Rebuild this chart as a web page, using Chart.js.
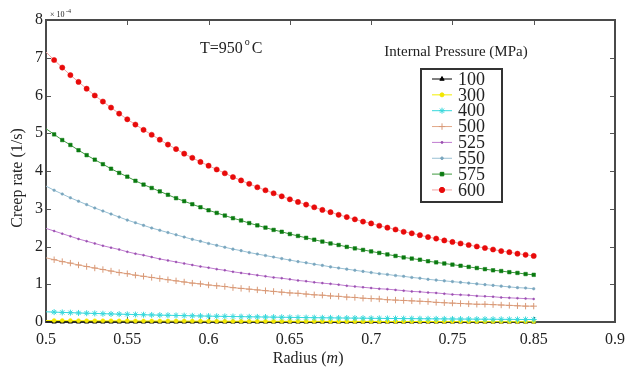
<!DOCTYPE html>
<html>
<head>
<meta charset="utf-8">
<script src="https://cdn.jsdelivr.net/npm/chart.js@4.4.0/dist/chart.umd.min.js"></script>
<style>
  html, body { margin: 0; padding: 0; background: #fff; }
  #wrap { width: 633px; height: 372px; }
</style>
</head>
<body>
<div id="wrap"><canvas id="chart" width="633" height="372"></canvas></div>
<script>
// radius (x axis units), one point every 0.005
var radius = [0.500, 0.505, 0.510, 0.515, 0.520, 0.525, 0.530, 0.535, 0.540, 0.545,
  0.550, 0.555, 0.560, 0.565, 0.570, 0.575, 0.580, 0.585, 0.590, 0.595,
  0.600, 0.605, 0.610, 0.615, 0.620, 0.625, 0.630, 0.635, 0.640, 0.645,
  0.650, 0.655, 0.660, 0.665, 0.670, 0.675, 0.680, 0.685, 0.690, 0.695,
  0.700, 0.705, 0.710, 0.715, 0.720, 0.725, 0.730, 0.735, 0.740, 0.745,
  0.750, 0.755, 0.760, 0.765, 0.770, 0.775, 0.780, 0.785, 0.790, 0.795, 0.800];

// tick labels as printed on the original x axis
var xTickLabels = ['0.5', '0.55', '0.6', '0.65', '0.7', '0.75', '0.85', '0.9'];
var yTickLabels = ['0', '1', '2', '3', '4', '5', '6', '7', '8'];

// creep rate, x 10^-4 1/s
var p100 = [0.002, 0.002, 0.002, 0.002, 0.002, 0.002, 0.002, 0.002, 0.002, 0.002,
  0.002, 0.002, 0.002, 0.002, 0.002, 0.002, 0.002, 0.002, 0.002, 0.002,
  0.001, 0.001, 0.001, 0.001, 0.001, 0.001, 0.001, 0.001, 0.001, 0.001,
  0.001, 0.001, 0.001, 0.001, 0.001, 0.001, 0.001, 0.001, 0.001, 0.001,
  0.001, 0.001, 0.001, 0.001, 0.001, 0.001, 0.001, 0.001, 0.001, 0.001,
  0.001, 0.001, 0.001, 0.001, 0.001, 0.001, 0.001, 0.001, 0.001, 0.001, 0.001];
var p300 = [0.040, 0.039, 0.038, 0.037, 0.036, 0.035, 0.034, 0.033, 0.032, 0.031,
  0.030, 0.029, 0.028, 0.028, 0.027, 0.026, 0.026, 0.025, 0.024, 0.024,
  0.023, 0.023, 0.022, 0.021, 0.021, 0.020, 0.020, 0.020, 0.019, 0.019,
  0.018, 0.018, 0.017, 0.017, 0.017, 0.016, 0.016, 0.016, 0.015, 0.015,
  0.015, 0.014, 0.014, 0.014, 0.013, 0.013, 0.013, 0.013, 0.012, 0.012,
  0.012, 0.012, 0.011, 0.011, 0.011, 0.011, 0.011, 0.010, 0.010, 0.010, 0.010];
var p400 = [0.270, 0.262, 0.254, 0.247, 0.240, 0.233, 0.227, 0.220, 0.214, 0.208,
  0.203, 0.197, 0.192, 0.187, 0.182, 0.178, 0.173, 0.169, 0.164, 0.160,
  0.156, 0.152, 0.149, 0.145, 0.142, 0.138, 0.135, 0.132, 0.129, 0.126,
  0.123, 0.120, 0.117, 0.115, 0.112, 0.110, 0.107, 0.105, 0.103, 0.101,
  0.098, 0.096, 0.094, 0.092, 0.090, 0.089, 0.087, 0.085, 0.083, 0.082,
  0.080, 0.078, 0.077, 0.075, 0.074, 0.073, 0.071, 0.070, 0.068, 0.067, 0.066];
var p500 = [1.70, 1.65, 1.60, 1.56, 1.51, 1.47, 1.43, 1.39, 1.35, 1.31,
  1.28, 1.24, 1.21, 1.18, 1.15, 1.12, 1.09, 1.06, 1.03, 1.01,
  0.98, 0.96, 0.94, 0.91, 0.89, 0.87, 0.85, 0.83, 0.81, 0.79,
  0.77, 0.76, 0.74, 0.72, 0.71, 0.69, 0.68, 0.66, 0.65, 0.63,
  0.62, 0.61, 0.59, 0.58, 0.57, 0.56, 0.55, 0.54, 0.52, 0.51,
  0.50, 0.49, 0.48, 0.47, 0.47, 0.46, 0.45, 0.44, 0.43, 0.42, 0.42];
var p525 = [2.48, 2.41, 2.34, 2.27, 2.20, 2.14, 2.08, 2.02, 1.97, 1.92,
  1.86, 1.81, 1.77, 1.72, 1.67, 1.63, 1.59, 1.55, 1.51, 1.47,
  1.44, 1.40, 1.37, 1.33, 1.30, 1.27, 1.24, 1.21, 1.18, 1.16,
  1.13, 1.10, 1.08, 1.05, 1.03, 1.01, 0.99, 0.96, 0.94, 0.92,
  0.90, 0.88, 0.87, 0.85, 0.83, 0.81, 0.80, 0.78, 0.77, 0.75,
  0.73, 0.72, 0.71, 0.69, 0.68, 0.67, 0.65, 0.64, 0.63, 0.62, 0.61];
var p550 = [3.60, 3.49, 3.39, 3.29, 3.20, 3.11, 3.02, 2.94, 2.86, 2.78,
  2.70, 2.63, 2.56, 2.49, 2.43, 2.37, 2.31, 2.25, 2.19, 2.14,
  2.08, 2.03, 1.98, 1.93, 1.89, 1.84, 1.80, 1.76, 1.72, 1.68,
  1.64, 1.60, 1.57, 1.53, 1.50, 1.46, 1.43, 1.40, 1.37, 1.34,
  1.31, 1.28, 1.26, 1.23, 1.21, 1.18, 1.16, 1.13, 1.11, 1.09,
  1.07, 1.05, 1.03, 1.01, 0.99, 0.97, 0.95, 0.93, 0.91, 0.90, 0.88];
var p575 = [5.12, 4.97, 4.82, 4.69, 4.55, 4.42, 4.30, 4.18, 4.06, 3.95,
  3.85, 3.74, 3.64, 3.55, 3.46, 3.37, 3.28, 3.20, 3.12, 3.04,
  2.96, 2.89, 2.82, 2.75, 2.69, 2.62, 2.56, 2.50, 2.44, 2.39,
  2.33, 2.28, 2.23, 2.18, 2.13, 2.08, 2.04, 1.99, 1.95, 1.91,
  1.87, 1.83, 1.79, 1.75, 1.71, 1.68, 1.65, 1.61, 1.58, 1.55,
  1.52, 1.49, 1.46, 1.43, 1.40, 1.37, 1.35, 1.32, 1.30, 1.27, 1.25];
var p600 = [7.15, 6.94, 6.74, 6.54, 6.36, 6.18, 6.00, 5.84, 5.68, 5.52,
  5.37, 5.23, 5.09, 4.96, 4.83, 4.70, 4.58, 4.46, 4.35, 4.24,
  4.14, 4.04, 3.94, 3.84, 3.75, 3.66, 3.57, 3.49, 3.41, 3.33,
  3.25, 3.18, 3.11, 3.04, 2.97, 2.91, 2.84, 2.78, 2.72, 2.66,
  2.61, 2.55, 2.50, 2.45, 2.39, 2.35, 2.30, 2.25, 2.21, 2.16,
  2.12, 2.08, 2.04, 2.00, 1.96, 1.92, 1.88, 1.85, 1.81, 1.78, 1.75];

var seriesNames = ['100', '300', '400', '500', '525', '550', '575', '600'];
var seriesData = [p100, p300, p400, p500, p525, p550, p575, p600];

var SERIF = '"Liberation Serif", "DejaVu Serif", serif';

// 선/마커 스타일
var styles = [
  {line: '#000000', fill: '#000000', point: 'triangle', r: 2.5},
  {line: '#f2ee00', fill: '#f2e600', point: 'circle', r: 2},
  {line: '#38d8dc', fill: '#38d8dc', point: 'star', r: 3},
  {line: '#e2a888', fill: '#d99a78', point: 'cross', r: 3.2},
  {line: '#c07cd0', fill: '#9a50b0', point: 'circle', r: 1},
  {line: '#98c0d4', fill: '#7aa6be', point: 'circle', r: 1.3},
  {line: '#3f9a3f', fill: '#0a7a10', point: 'rect', r: 2.5},
  {line: '#f2a2a2', fill: '#e80a0a', point: 'circle', r: 2.6}
];

function makeDataset(i) {
  var pts = [];
  for (var k = 0; k < radius.length; k++) {
    pts.push({x: radius[k], y: seriesData[i][k]});
  }
  var st = styles[i];
  return {
    label: seriesNames[i],
    data: pts,
    borderColor: st.line,
    borderWidth: 1,
    backgroundColor: st.fill,
    pointBackgroundColor: st.fill,
    pointBorderColor: st.fill,
    pointBorderWidth: st.point == 'cross' || st.point == 'star' ? 1 : 0.5,
    pointStyle: st.point,
    pointRadius: function (ctx) { return ctx.dataIndex === 0 ? 0 : st.r; },
    pointHoverRadius: 0,
    tension: 0,
    clip: false,
    order: 8 - i
  };
}

var datasets = [];
for (var i = 0; i < seriesNames.length; i++) {
  datasets.push(makeDataset(i));
}

// 축 테두리, 안쪽 눈금, 텍스트
var framePlugin = {
  id: 'frame',
  beforeDatasetsDraw: function (chart) {
    var ctx = chart.ctx, a = chart.chartArea;
    var xs = chart.scales.x, ys = chart.scales.y;
    ctx.save();
    ctx.strokeStyle = '#555';
    ctx.lineWidth = 1;
    xs.ticks.forEach(function (t) {
      var px = Math.round(xs.getPixelForValue(t.value)) + 0.5;
      ctx.beginPath();
      ctx.moveTo(px, a.bottom); ctx.lineTo(px, a.bottom - 5);
      ctx.moveTo(px, a.top); ctx.lineTo(px, a.top + 5);
      ctx.stroke();
    });
    ys.ticks.forEach(function (t) {
      var py = Math.round(ys.getPixelForValue(t.value)) + 0.5;
      ctx.beginPath();
      ctx.moveTo(a.left, py); ctx.lineTo(a.left + 5, py);
      ctx.moveTo(a.right, py); ctx.lineTo(a.right - 5, py);
      ctx.stroke();
    });
    ctx.strokeStyle = '#4a4a4a';
    ctx.lineWidth = 2;
    ctx.strokeRect(a.left, a.top, a.right - a.left, a.bottom - a.top);
    ctx.restore();
  },
  afterDraw: function (chart) {
    var ctx = chart.ctx, a = chart.chartArea;
    ctx.save();
    ctx.fillStyle = '#222';

    // x10^-4
    ctx.font = '8px ' + SERIF;
    ctx.textBaseline = 'alphabetic';
    ctx.textAlign = 'left';
    ctx.fillText('\u00d7 10', 50, 17);
    ctx.font = '6px ' + SERIF;
    ctx.fillText('-4', 66, 13);

    // T=950 °C
    ctx.font = '16px ' + SERIF;
    ctx.fillText('T=950', 200, 53);
    var w = ctx.measureText('T=950').width;
    ctx.font = '10px ' + SERIF;
    ctx.fillText('o', 200 + w + 2, 45);
    ctx.font = '16px ' + SERIF;
    ctx.fillText('C', 200 + w + 9, 53);

    // 범례 제목
    ctx.textAlign = 'center';
    ctx.font = '15px ' + SERIF;
    ctx.fillText('Internal Pressure (MPa)', 456, 56);

    // x축 제목
    ctx.textAlign = 'left';
    var t1 = 'Radius (', t3 = ')';
    ctx.font = '16px ' + SERIF;
    var w1 = ctx.measureText(t1).width;
    ctx.font = 'italic 16px ' + SERIF;
    var w2 = ctx.measureText('m').width;
    var sx = 308 - (w1 + w2 + 5) / 2;
    ctx.font = '16px ' + SERIF;
    ctx.fillText(t1, sx, 363);
    ctx.font = 'italic 16px ' + SERIF;
    ctx.fillText('m', sx + w1, 363);
    ctx.font = '16px ' + SERIF;
    ctx.fillText(t3, sx + w1 + w2, 363);

    // y축 제목
    ctx.save();
    ctx.translate(18, 178);
    ctx.rotate(-Math.PI / 2);
    ctx.textAlign = 'center';
    ctx.textBaseline = 'middle';
    ctx.font = '16px ' + SERIF;
    ctx.fillText('Creep rate (1/s)', 0, 0);
    ctx.restore();

    // 범례 박스
    var bx = 421, by = 69, bw = 81, bh = 133;
    ctx.fillStyle = '#fff';
    ctx.fillRect(bx, by, bw, bh);
    ctx.strokeStyle = '#333';
    ctx.lineWidth = 2;
    ctx.strokeRect(bx, by, bw, bh);
    for (var i = 0; i < datasets.length; i++) {
      var ds = datasets[i], st = styles[i];
      var y = 79 + i * 15.85;
      ctx.strokeStyle = st.line;
      ctx.lineWidth = 1;
      ctx.beginPath();
      ctx.moveTo(432, y); ctx.lineTo(452, y);
      ctx.stroke();
      ctx.fillStyle = st.fill;
      ctx.strokeStyle = st.fill;
      Chart.helpers.drawPoint(ctx, {pointStyle: st.point, radius: st.r, borderWidth: ds.pointBorderWidth}, 442, y);
      ctx.fillStyle = '#222';
      ctx.font = '18px ' + SERIF;
      ctx.textAlign = 'left';
      ctx.textBaseline = 'middle';
      ctx.fillText(seriesNames[i], 458, y + 1);
    }
    ctx.restore();
  }
};

new Chart(document.getElementById('chart'), {
  type: 'line',
  data: {datasets: datasets},
  options: {
    responsive: false,
    animation: false,
    events: [],
    layout: {padding: {left: 0, right: 12, top: 20, bottom: 0}},
    plugins: {legend: {display: false}, tooltip: {enabled: false}},
    scales: {
      x: {
        type: 'linear',
        min: 0.5,
        max: 0.85,
        afterFit: function (s) { s.height = 50; },
        afterBuildTicks: function (s) {
          s.ticks = xTickLabels.map(function (lab, k) { return {value: 0.5 + k * 0.05}; });
        },
        grid: {display: false, drawTicks: false, tickLength: 0},
        border: {display: false},
        ticks: {
          autoSkip: false,
          maxRotation: 0,
          padding: 8,
          color: '#222',
          font: {family: SERIF, size: 16},
          callback: function (v, idx) { return xTickLabels[idx]; }
        }
      },
      y: {
        min: 0,
        max: 8,
        afterFit: function (s) { s.width = 46; },
        grid: {display: false, drawTicks: false, tickLength: 0},
        border: {display: false},
        ticks: {
          stepSize: 1,
          padding: 3,
          color: '#222',
          font: {family: SERIF, size: 16},
          callback: function (v, idx) { return yTickLabels[idx]; }
        }
      }
    }
  },
  plugins: [framePlugin]
});
</script>
</body>
</html>
